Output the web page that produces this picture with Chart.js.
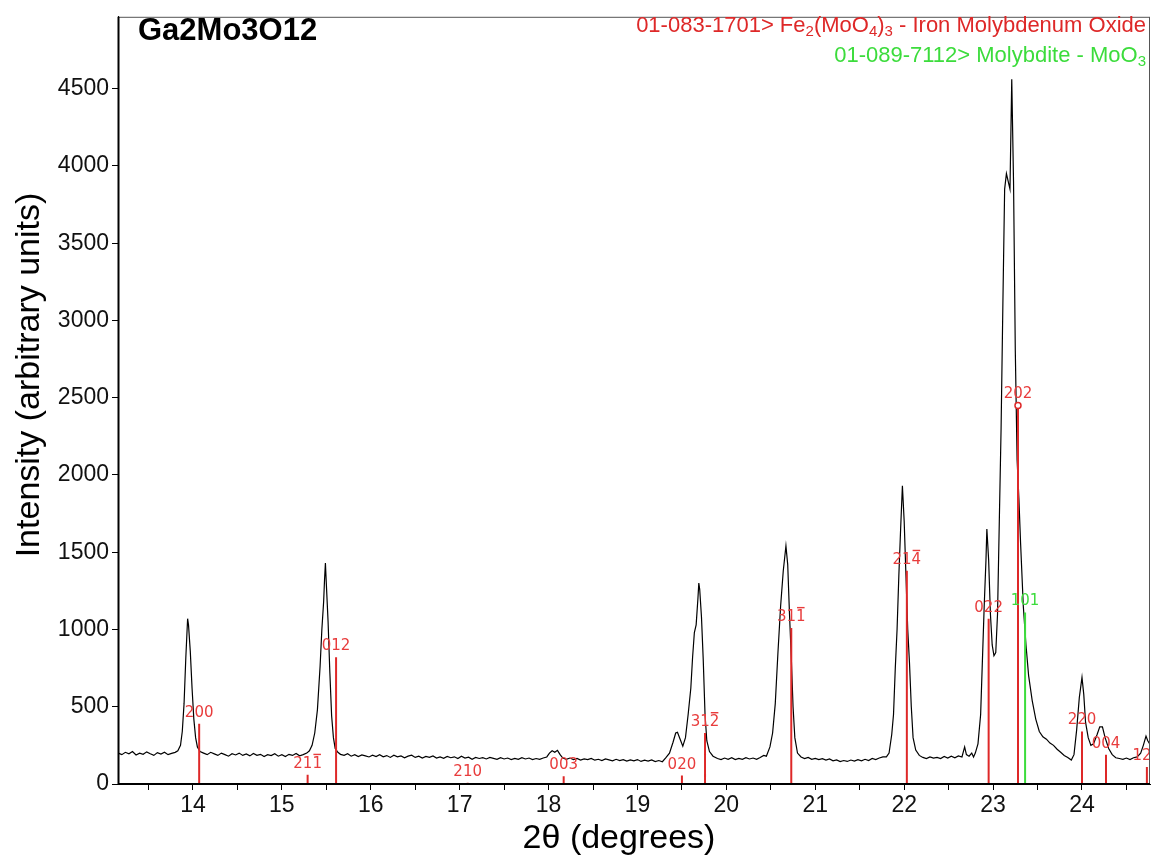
<!DOCTYPE html>
<html>
<head>
<meta charset="utf-8">
<script src="https://cdn.jsdelivr.net/npm/chart.js"></script>
<style>
  body { margin: 0; background: #fff; }
</style>
</head>
<body>
<canvas id="xrd" width="1154" height="858"></canvas>
<script>
// scan: [2theta, counts]
const pattern = [
  [13.16,200],[13.20,190],[13.24,205],[13.28,195],[13.32,210],[13.36,188],[13.40,200],[13.44,192],[13.48,208],
  [13.52,196],[13.56,185],[13.60,203],[13.64,194],[13.68,206],[13.72,190],[13.76,198],[13.80,205],[13.83,215],
  [13.86,250],[13.88,340],[13.90,520],[13.92,820],[13.94,1070],[13.95,1030],[13.97,860],[13.99,620],[14.01,420],
  [14.03,300],[14.05,240],[14.08,210],[14.12,200],[14.16,190],[14.20,205],[14.24,195],[14.28,185],[14.32,200],
  [14.36,190],[14.40,180],[14.44,196],[14.48,188],[14.52,200],[14.56,185],[14.60,195],[14.64,182],[14.68,198],
  [14.72,186],[14.76,192],[14.80,178],[14.84,190],[14.88,184],[14.92,196],[14.96,180],[15.00,190],[15.04,178],
  [15.08,192],[15.12,185],[15.16,198],[15.20,183],[15.24,190],[15.28,200],[15.31,215],[15.34,250],[15.37,330],
  [15.40,480],[15.43,760],[15.45,1000],[15.47,1180],[15.48,1320],[15.49,1430],[15.50,1300],[15.52,1050],
  [15.54,720],[15.56,440],[15.58,300],[15.60,230],[15.63,205],[15.66,192],[15.70,185],[15.74,196],[15.78,180],
  [15.82,190],[15.86,178],[15.90,188],[15.94,182],[15.98,175],[16.02,186],[16.06,178],[16.10,190],[16.14,176],
  [16.18,184],[16.22,172],[16.26,186],[16.30,176],[16.34,182],[16.38,170],[16.42,180],[16.46,186],[16.50,172],
  [16.54,180],[16.58,168],[16.62,178],[16.66,172],[16.70,182],[16.74,168],[16.78,175],[16.82,166],[16.86,178],
  [16.90,170],[16.94,176],[16.98,165],[17.02,180],[17.06,168],[17.10,174],[17.14,160],[17.18,172],[17.22,165],
  [17.26,170],[17.30,162],[17.34,172],[17.38,166],[17.42,160],[17.46,170],[17.50,162],[17.54,168],[17.58,158],
  [17.62,166],[17.66,160],[17.70,170],[17.74,162],[17.78,168],[17.82,158],[17.86,165],[17.90,160],[17.94,168],
  [17.98,175],[18.01,200],[18.04,215],[18.07,205],[18.10,218],[18.13,190],[18.16,168],[18.20,160],[18.24,168],
  [18.28,158],[18.32,165],[18.36,155],[18.40,162],[18.44,158],[18.48,166],[18.52,154],[18.56,160],[18.60,152],
  [18.64,162],[18.68,156],[18.72,150],[18.76,160],[18.80,152],[18.84,158],[18.88,148],[18.92,156],[18.96,150],
  [19.00,158],[19.04,146],[19.08,154],[19.12,148],[19.16,156],[19.20,145],[19.24,152],[19.28,144],[19.32,170],
  [19.36,200],[19.40,270],[19.43,330],[19.45,335],[19.48,290],[19.51,245],[19.54,300],[19.57,450],[19.60,620],
  [19.62,820],[19.64,980],[19.66,1030],[19.68,1200],[19.69,1300],[19.70,1260],[19.72,1080],[19.74,800],
  [19.76,450],[19.78,280],[19.81,210],[19.85,180],[19.90,165],[19.94,158],[19.98,168],[20.02,160],[20.06,170],
  [20.10,158],[20.14,166],[20.18,160],[20.22,170],[20.26,162],[20.30,168],[20.34,160],[20.38,172],[20.42,185],
  [20.45,180],[20.49,240],[20.52,330],[20.55,520],[20.58,850],[20.61,1150],[20.64,1380],[20.67,1540],
  [20.69,1420],[20.71,1100],[20.73,820],[20.75,500],[20.77,300],[20.80,200],[20.84,175],[20.88,165],[20.92,172],
  [20.96,160],[21.00,166],[21.04,158],[21.08,164],[21.12,155],[21.16,162],[21.20,150],[21.24,156],[21.28,145],
  [21.32,152],[21.36,146],[21.40,155],[21.44,148],[21.48,158],[21.52,150],[21.56,160],[21.60,152],[21.64,165],
  [21.68,158],[21.72,168],[21.76,175],[21.80,175],[21.83,200],[21.86,320],[21.88,450],[21.90,750],[21.92,1000],
  [21.94,1350],[21.96,1650],[21.98,1930],[22.00,1700],[22.02,1350],[22.04,1000],[22.06,780],[22.08,500],
  [22.10,300],[22.13,220],[22.17,185],[22.21,172],[22.25,165],[22.29,175],[22.33,168],[22.37,172],[22.41,165],
  [22.45,178],[22.49,168],[22.53,180],[22.57,170],[22.61,182],[22.65,175],[22.68,240],[22.70,190],[22.73,180],
  [22.76,200],[22.78,175],[22.80,200],[22.83,260],[22.86,450],[22.88,800],[22.90,1150],[22.92,1450],
  [22.93,1650],[22.95,1450],[22.97,1100],[22.99,900],[23.01,830],[23.03,850],[23.05,1100],[23.07,1700],
  [23.09,2300],[23.11,3100],[23.13,3850],[23.15,3950],[23.17,3900],[23.19,3850],[23.21,4560],[23.23,3900],
  [23.25,2800],[23.27,2100],[23.29,1850],[23.31,1550],[23.34,1150],[23.37,900],[23.40,700],[23.44,540],
  [23.48,420],[23.52,340],[23.56,305],[23.60,290],[23.64,265],[23.68,250],[23.72,225],[23.76,205],[23.80,185],
  [23.84,172],[23.88,155],[23.91,190],[23.94,350],[23.97,560],[24.00,690],[24.02,580],[24.04,400],[24.07,300],
  [24.10,250],[24.13,260],[24.17,320],[24.20,370],[24.23,370],[24.26,300],[24.30,230],[24.34,190],[24.38,170],
  [24.42,165],[24.46,160],[24.50,168],[24.54,158],[24.58,170],[24.62,175],[24.66,200],[24.69,250],[24.72,310],
  [24.74,280],[24.76,260]
];

// reference card 01-083-1701 (red)
const redPos = [14.07, 15.29, 15.61, 17.09, 18.17, 19.50, 19.76, 20.73, 22.03, 22.95, 23.28, 24.00, 24.27, 24.73];
const redInt = [390, 60, 820, 8, 50, 55, 330, 1010, 1380, 1070, 2450, 340, 190, 110];
const redHkl = ["200", "21-1", "012", "210", "003", "020", "31-2", "31-1", "21-4", "022", "202", "220", "004", "123"];

// reference card 01-089-7112 (green)
const greenPos = [23.36];
const greenInt = [1110];
const greenHkl = ["101"];

const xTicks = [13.5, 14, 14.5, 15, 15.5, 16, 16.5, 17, 17.5, 18, 18.5, 19, 19.5, 20, 20.5, 21, 21.5, 22, 22.5, 23, 23.5, 24, 24.5];
const yTicks = [0, 500, 1000, 1500, 2000, 2500, 3000, 3500, 4000, 4500];

const RED = "rgb(222, 40, 40)";
const GREEN = "rgb(60, 220, 60)";

function sticks(pos, ints) {
    let out = [];
    pos.forEach((p, i) => {
        out.push({x: p, y: 0}, {x: p, y: ints[i]}, {x: p, y: null});
    });
    return out;
}

// hkl text, "-" puts a bar over the next digit
function drawHkl(ctx, txt, cx, cy) {
    let chars = [];
    for (let i = 0; i < txt.length; i++) {
        if (txt[i] === "-") { chars.push({c: txt[i + 1], bar: true}); i++; }
        else chars.push({c: txt[i], bar: false});
    }
    let w = chars.reduce((s, ch) => s + ctx.measureText(ch.c).width, 0);
    let x = cx - w / 2;
    chars.forEach(ch => {
        let cw = ctx.measureText(ch.c).width;
        ctx.fillText(ch.c, x, cy);
        if (ch.bar) ctx.fillRect(x + 1, cy - 14, cw - 2, 1.4);
        x += cw;
    });
}

// text made of [string, isSubscript] parts, right aligned
function drawRich(ctx, parts, right, y, size, color) {
    const big = size + "px 'Liberation Sans', Arial, sans-serif";
    const small = Math.round(size * 0.68) + "px 'Liberation Sans', Arial, sans-serif";
    let w = 0;
    parts.forEach(p => { ctx.font = p[1] ? small : big; w += ctx.measureText(p[0]).width; });
    let x = right - w;
    ctx.fillStyle = color;
    ctx.textAlign = "left";
    ctx.textBaseline = "alphabetic";
    parts.forEach(p => {
        ctx.font = p[1] ? small : big;
        ctx.fillText(p[0], x, p[1] ? y + 4 : y);
        x += ctx.measureText(p[0]).width;
    });
}

const decor = {
    id: "decor",
    afterDatasetsDraw(chart) {
        const {ctx, chartArea: a, scales: {x, y}} = chart;
        ctx.save();
        ctx.beginPath();
        ctx.rect(a.left, a.top, a.right - a.left, a.bottom - a.top);
        ctx.clip();
        ctx.font = "15px 'DejaVu Sans', Verdana, sans-serif";
        ctx.textAlign = "left";
        ctx.textBaseline = "alphabetic";
        ctx.fillStyle = "rgb(232, 60, 60)";
        redPos.forEach((p, i) => drawHkl(ctx, redHkl[i], x.getPixelForValue(p), y.getPixelForValue(redInt[i]) - 7));
        ctx.fillStyle = GREEN;
        greenPos.forEach((p, i) => drawHkl(ctx, greenHkl[i], x.getPixelForValue(p), y.getPixelForValue(greenInt[i]) - 7));
        ctx.restore();
    },
    afterDraw(chart) {
        const {ctx, chartArea: a} = chart;
        ctx.save();
        // frame
        ctx.strokeStyle = "#555";
        ctx.lineWidth = 1;
        ctx.strokeRect(a.left + 0.5, a.top + 0.5, a.right - a.left - 1, a.bottom - a.top);
        ctx.strokeStyle = "#000";
        ctx.lineWidth = 2;
        ctx.beginPath();
        ctx.moveTo(a.left, a.bottom);
        ctx.lineTo(a.right, a.bottom);
        ctx.moveTo(a.left + 0.5, a.bottom);
        ctx.lineTo(a.left + 0.5, a.top);
        ctx.stroke();

        // sample name
        ctx.fillStyle = "#000";
        ctx.font = "bold 31px 'Liberation Sans', Arial, sans-serif";
        ctx.textAlign = "left";
        ctx.textBaseline = "alphabetic";
        ctx.fillText("Ga2Mo3O12", 138, 40);

        // card names
        drawRich(ctx, [["01-083-1701> Fe", 0], ["2", 1], ["(MoO", 0], ["4", 1], [")", 0], ["3", 1],
            [" - Iron Molybdenum Oxide", 0]], 1146, 32, 22, RED);
        drawRich(ctx, [["01-089-7112> Molybdite - MoO", 0], ["3", 1]], 1146, 62, 22, GREEN);

        // axis titles
        ctx.fillStyle = "#000";
        ctx.font = "34px 'Liberation Sans', Arial, sans-serif";
        ctx.textAlign = "center";
        ctx.textBaseline = "middle";
        ctx.fillText("2\u03B8 (degrees)", 619, 839);
        ctx.translate(30, 375);
        ctx.rotate(-Math.PI / 2);
        ctx.fillText("Intensity (arbitrary units)", 0, 0);
        ctx.restore();
    }
};

const ctx = document.getElementById("xrd");
const xrdChart = new Chart(ctx, {
    type: "line",
    data: {
        datasets: [
            {
                data: pattern.map(p => ({x: p[0], y: p[1]})),
                borderColor: "#000",
                borderWidth: 1.2,
                pointRadius: 0,
                tension: 0,
                order: 3
            },
            {
                data: sticks(redPos, redInt),
                borderColor: RED,
                borderWidth: 2,
                spanGaps: false,
                pointRadius: c => (c.dataIndex === redHkl.indexOf("202") * 3 + 1 ? 3 : 0),
                pointBackgroundColor: "#fff",
                pointBorderColor: RED,
                pointBorderWidth: 1.5,
                order: 1
            },
            {
                data: sticks(greenPos, greenInt),
                borderColor: GREEN,
                borderWidth: 2,
                spanGaps: false,
                pointRadius: 0,
                order: 2
            }
        ]
    },
    options: {
        responsive: false,
        animation: false,
        devicePixelRatio: 1,
        layout: {padding: {top: 7, right: 4, left: 0, bottom: 0}},
        plugins: {
            legend: {display: false},
            tooltip: {enabled: false}
        },
        scales: {
            x: {
                type: "linear",
                min: 13.157,
                max: 24.765,
                offset: false,
                afterBuildTicks: s => { s.ticks = xTicks.map(v => ({value: v})); },
                afterFit: s => { s.height = 74; },
                grid: {drawOnChartArea: false, drawTicks: true, tickLength: 6, color: "#000"},
                border: {display: true, color: "#000", width: 1},
                ticks: {
                    autoSkip: false,
                    maxRotation: 0,
                    padding: 2,
                    color: "#111",
                    font: {size: 23, family: "'Liberation Sans', Arial, sans-serif"},
                    callback: v => (Number.isInteger(v) ? String(v) : "")
                }
            },
            y: {
                min: 0,
                max: 4965,
                afterBuildTicks: s => { s.ticks = yTicks.map(v => ({value: v})); },
                afterFit: s => { s.width = 118; },
                grid: {drawOnChartArea: false, drawTicks: true, tickLength: 6, color: "#000"},
                border: {display: true, color: "#000", width: 1},
                ticks: {
                    padding: 3,
                    color: "#111",
                    font: {size: 23, family: "'Liberation Sans', Arial, sans-serif"},
                    callback: v => String(v)
                }
            }
        }
    },
    plugins: [decor]
});
</script>
</body>
</html>
